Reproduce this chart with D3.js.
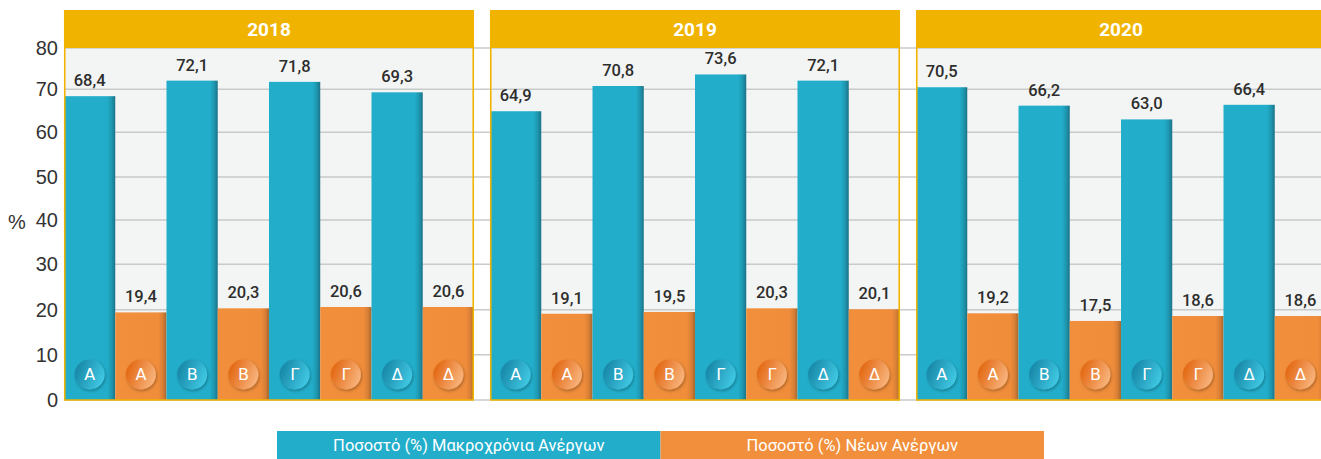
<!DOCTYPE html>
<html>
<head>
<meta charset="utf-8">
<script src="https://cdn.jsdelivr.net/npm/d3@7"></script>
<style>
  html, body { margin: 0; padding: 0; background: #ffffff; }
  svg { display: block; }
</style>
</head>
<body>
<svg id="chart" width="1321" height="459"></svg>
<script>
// ---- data ----
const years = ["2018", "2019", "2020"];
const regions = ["Α", "Β", "Γ", "Δ"];
const seriesNames = ["Ποσοστό (%) Μακροχρόνια Ανέργων", "Ποσοστό (%) Νέων Ανέργων"];
const longTerm2018 = [68.4, 72.1, 71.8, 69.3];
const longTerm2019 = [64.9, 70.8, 73.6, 72.1];
const longTerm2020 = [70.5, 66.2, 63.0, 66.4];
const youth2018 = [19.4, 20.3, 20.6, 20.6];
const youth2019 = [19.1, 19.5, 20.3, 20.1];
const youth2020 = [19.2, 17.5, 18.6, 18.6];
const yTicks = [0, 10, 20, 30, 40, 50, 60, 70, 80];

const longTerm = [longTerm2018, longTerm2019, longTerm2020];
const youth = [youth2018, youth2019, youth2020];

// ---- layout ----
const svg = d3.select("#chart");
const colors = { teal: "#22aecb", orange: "#f28f3c", gold: "#f0b400" };
const plotTop = 48, plotBottom = 400, headerTop = 10;

// y positions of the gridlines in the reference are slightly uneven
const y = d3.scaleLinear()
  .domain(yTicks)
  .range([400, 354.7, 309.7, 264.3, 220, 177, 132.3, 89.3, 48]);

const xPanel = d3.scaleBand().domain(years).range([64, 1326]).paddingInner(0.0376).paddingOuter(0);
const keys = [];
regions.forEach((r, i) => { keys.push("L" + i); keys.push("Y" + i); });
const xBar = d3.scaleBand().domain(keys).range([0, xPanel.bandwidth()]).padding(0);

const fmt = d3.formatLocale({ decimal: ",", thousands: ".", grouping: [3], currency: ["", "€"] }).format(".1f");

// ---- gradients ----
const defs = svg.append("defs");
function hGrad(id, stops) {
  const g = defs.append("linearGradient").attr("id", id).attr("x1", 0).attr("x2", 1).attr("y1", 0).attr("y2", 0);
  stops.forEach(s => g.append("stop").attr("offset", s[0]).attr("stop-color", s[1]));
}
hGrad("barTeal", [[0, "#22aecb"], [0.84, "#22aecb"], [0.93, "#1e96af"], [1, "#1b7288"]]);
hGrad("barOrange", [[0, "#f28f3c"], [0.84, "#f08d3b"], [0.93, "#d77f36"], [1, "#a8662c"]]);
const cg1 = defs.append("linearGradient").attr("id", "circTeal").attr("x1", 0).attr("x2", 1).attr("y1", 0.3).attr("y2", 0.7);
cg1.append("stop").attr("offset", 0).attr("stop-color", "#1785a5");
cg1.append("stop").attr("offset", 1).attr("stop-color", "#41cbe6");
const cg2 = defs.append("linearGradient").attr("id", "circOrange").attr("x1", 0).attr("x2", 1).attr("y1", 0.3).attr("y2", 0.7);
cg2.append("stop").attr("offset", 0).attr("stop-color", "#e2650f");
cg2.append("stop").attr("offset", 1).attr("stop-color", "#f9b781");
const shadow = defs.append("filter").attr("id", "cshadow").attr("x", "-30%").attr("y", "-30%").attr("width", "160%").attr("height", "160%");
shadow.append("feDropShadow").attr("dx", 1).attr("dy", 1.5).attr("stdDeviation", 1.5).attr("flood-color", "#000").attr("flood-opacity", 0.3);

// ---- layers ----
const bgLayer = svg.append("g");
const gridLayer = svg.append("g");
const markLayer = svg.append("g");

// ---- panel backgrounds ----
bgLayer.selectAll("rect").data(years).join("rect")
  .attr("x", d => xPanel(d)).attr("y", plotTop)
  .attr("width", xPanel.bandwidth()).attr("height", plotBottom - plotTop)
  .attr("fill", "#f3f5f4");

// ---- gridlines (span the full width, including gaps) ----
gridLayer.selectAll("line").data(yTicks).join("line")
  .attr("x1", 64).attr("x2", 1321)
  .attr("y1", d => y(d)).attr("y2", d => y(d))
  .attr("stroke", "#c9caca").attr("stroke-width", 1.5);

// ---- bars ----
const panels = markLayer.selectAll("g.panel").data(years).join("g")
  .attr("class", "panel")
  .attr("transform", d => `translate(${xPanel(d)},0)`);

panels.each(function (year, pi) {
  const g = d3.select(this);
  const rows = [];
  regions.forEach((r, i) => {
    rows.push({ key: "L" + i, region: r, value: longTerm[pi][i], type: "teal" });
    rows.push({ key: "Y" + i, region: r, value: youth[pi][i], type: "orange" });
  });

  g.selectAll("rect.bar").data(rows).join("rect")
    .attr("class", "bar")
    .attr("x", d => xBar(d.key))
    .attr("y", d => y(d.value))
    .attr("width", xBar.bandwidth())
    .attr("height", d => y(0) - y(d.value))
    .attr("fill", d => d.type === "teal" ? "url(#barTeal)" : "url(#barOrange)");

  g.selectAll("text.val").data(rows).join("text")
    .attr("class", "val")
    .attr("x", d => xBar(d.key) + xBar.bandwidth() / 2)
    .attr("y", d => y(d.value) - 10)
    .attr("text-anchor", "middle")
    .attr("font-family", "Roboto, 'DejaVu Sans', sans-serif")
    .attr("font-weight", 500)
    .attr("font-size", 16.5)
    .attr("fill", "#2d2d2d")
    .text(d => fmt(d.value));

  const badges = g.selectAll("g.badge").data(rows).join("g")
    .attr("class", "badge")
    .attr("transform", d => `translate(${xBar(d.key) + xBar.bandwidth() / 2},${y(0) - 25.5})`);
  badges.append("circle")
    .attr("r", 15)
    .attr("fill", d => d.type === "teal" ? "url(#circTeal)" : "url(#circOrange)")
    .attr("filter", "url(#cshadow)");
  badges.append("text")
    .attr("text-anchor", "middle")
    .attr("dy", "0.36em")
    .attr("font-family", "'DejaVu Sans', sans-serif")
    .attr("font-size", 16)
    .attr("fill", "#ffffff")
    .text(d => d.region);

  // header
  g.append("rect")
    .attr("x", 0).attr("y", headerTop)
    .attr("width", xPanel.bandwidth()).attr("height", plotTop - headerTop)
    .attr("fill", colors.gold);
  g.append("text")
    .attr("x", xPanel.bandwidth() / 2).attr("y", (headerTop + plotTop) / 2)
    .attr("dy", "0.36em")
    .attr("text-anchor", "middle")
    .attr("font-family", "Roboto, sans-serif")
    .attr("font-weight", 700)
    .attr("font-size", 19)
    .attr("fill", "#ffffff")
    .text(year);

  // frame: left, right, bottom
  g.append("path")
    .attr("d", `M0.75,${headerTop}V${plotBottom}H${xPanel.bandwidth() - 0.75}V${headerTop}`)
    .attr("fill", "none")
    .attr("stroke", colors.gold)
    .attr("stroke-width", 1.6);
});

// ---- y axis ----
const yAxis = d3.axisLeft(y).tickValues(yTicks).tickSize(0).tickPadding(0).tickFormat(d3.format("d"));
const ya = svg.append("g").attr("transform", "translate(58,0)").call(yAxis);
ya.select(".domain").remove();
ya.selectAll("text")
  .attr("font-family", "'Liberation Sans', Arial, sans-serif")
  .attr("font-size", 20)
  .attr("fill", "#333333");

svg.append("text")
  .attr("x", 17).attr("y", 222)
  .attr("dy", "0.36em")
  .attr("text-anchor", "middle")
  .attr("font-family", "'Liberation Sans', Arial, sans-serif")
  .attr("font-size", 20)
  .attr("fill", "#333333")
  .text("%");

// ---- legend ----
const legendX = d3.scaleBand().domain(seriesNames).range([277, 1044]);
const leg = svg.append("g").selectAll("g").data(seriesNames).join("g")
  .attr("transform", d => `translate(${legendX(d)},431)`);
leg.append("rect")
  .attr("width", legendX.bandwidth()).attr("height", 30)
  .attr("fill", (d, i) => i === 0 ? colors.teal : colors.orange);
leg.append("text")
  .attr("x", legendX.bandwidth() / 2).attr("y", 14.5)
  .attr("dy", "0.36em")
  .attr("text-anchor", "middle")
  .attr("font-family", "Roboto, sans-serif")
  .attr("font-size", 16.5)
  .attr("fill", "#ffffff")
  .text(d => d);
</script>
</body>
</html>
